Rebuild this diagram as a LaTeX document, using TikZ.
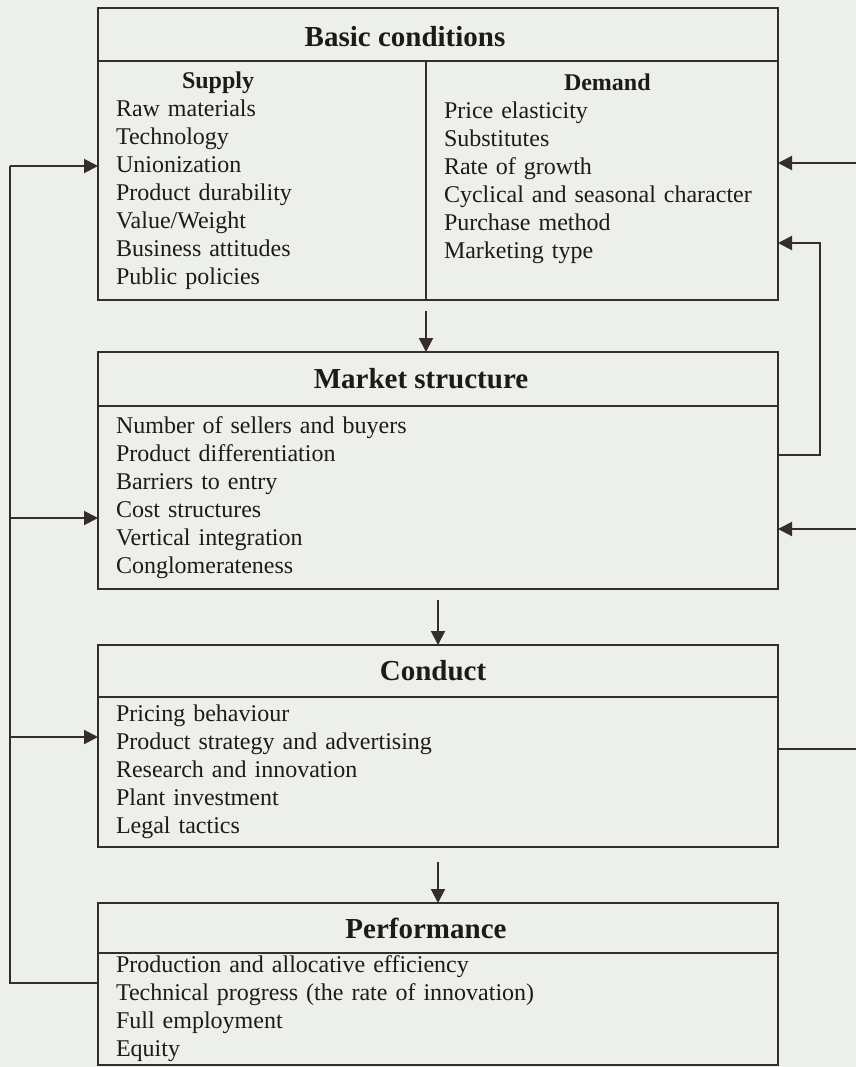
\documentclass[tikz,border=0pt]{standalone}
\usepackage{fontspec}
\setmainfont{Liberation Serif}
\usetikzlibrary{arrows.meta, positioning}

\definecolor{paper}{RGB}{236,239,234}
\definecolor{ink}{RGB}{52,45,42}
\definecolor{print}{RGB}{30,26,24}

\begin{document}
\begin{tikzpicture}[
  x=0.5pt, y=-0.5pt,
  head/.style={rectangle, draw=ink, line width=1pt, outer sep=0pt, minimum width=340pt},
  title/.style={text=print, inner sep=0pt, font=\fontsize{14.5pt}{17pt}\selectfont\bfseries},
  body/.style={rectangle, draw=ink, line width=1pt, outer sep=0pt, text=print, inner xsep=9pt, inner ysep=1pt, align=left, font=\fontsize{12pt}{14pt}\selectfont},
  arrow/.style={-{Triangle[length=7pt, width=7pt]}, draw=ink, line width=1pt},
  link/.style={draw=ink, line width=1pt}
]
\useasboundingbox (0,0) rectangle (856,1067);
\fill[paper] (0,0) rectangle (856,1067);

\node (basic) [head, anchor=north west, minimum height=26.5pt] at (98,8) {};
\node (basicT) [title] at ([xshift=-16.5pt, yshift=-1pt]basic.center) {Basic conditions};
\node (supply) [body, below=0pt of basic.south west, anchor=north west, minimum width=164pt, text width=146pt, minimum height=119.5pt]
  {\hspace*{33pt}\textbf{Supply}\\Raw materials\\Technology\\Unionization\\Product durability\\Value/Weight\\Business attitudes\\Public policies};
\node (demand) [body, right=0pt of supply, minimum width=176pt, text width=158pt, minimum height=119.5pt]
  {\hspace*{60pt}\textbf{Demand}\\Price elasticity\\Substitutes\\Rate of growth\\Cyclical and seasonal character\\Purchase method\\Marketing type\\\mbox{}};

\node (market) [head, below=26pt of supply.south west, anchor=north west, minimum height=27pt] {};
\node (marketT) [title] at ([xshift=-8.5pt]market.center) {Market structure};
\node (marketB) [body, below=0pt of market, minimum width=340pt, text width=322pt, minimum height=91.5pt]
  {Number of sellers and buyers\\Product differentiation\\Barriers to entry\\Cost structures\\Vertical integration\\Conglomerateness};

\node (conduct) [head, below=28pt of marketB, minimum height=26pt] {};
\node (conductT) [title] at ([xshift=-2.5pt]conduct.center) {Conduct};
\node (conductB) [body, below=0pt of conduct, minimum width=340pt, text width=322pt, minimum height=75pt]
  {Pricing behaviour\\Product strategy and advertising\\Research and innovation\\Plant investment\\Legal tactics};

\node (perf) [head, below=28pt of conductB, minimum height=25pt] {};
\node (perfT) [title] at ([xshift=-6pt]perf.center) {Performance};
\node (perfB) [body, below=0pt of perf, minimum width=340pt, text width=322pt, minimum height=56pt]
  {Production and allocative efficiency\\Technical progress (the rate of innovation)\\Full employment\\Equity};

% downward flow
\draw [arrow] ([yshift=-5.5pt]supply.south east) -- (supply.south east |- market.north);
\draw [arrow] ([yshift=-5.5pt]marketB.south) -- (conduct.north);
\draw [arrow] ([yshift=-7.5pt]conductB.south) -- (perf.north);

% feedback on the left
\coordinate (busTop) at (10,166);
\coordinate (busM) at (10,518);
\coordinate (busC) at (10,737);
\coordinate (busBot) at (10,983);
\draw [link] (perfB.west |- busBot) -- (busBot) -- (busTop);
\draw [arrow] (busTop) -- (supply.west |- busTop);
\draw [arrow] (busM) -- (marketB.west |- busM);
\draw [arrow] (busC) -- (conductB.west |- busC);

% feedback on the right
\coordinate (edgeB) at (856,163);
\coordinate (edgeM) at (856,529);
\coordinate (edgeC) at (856,749);
\coordinate (loopLo) at (820,455);
\coordinate (loopHi) at (820,243);
\draw [arrow] (edgeB) -- (demand.east |- edgeB);
\draw [arrow] (edgeM) -- (marketB.east |- edgeM);
\draw [link] (conductB.east |- edgeC) -- (edgeC);
\draw [arrow] (marketB.east |- loopLo) -- (loopLo) -- (loopHi) -- (demand.east |- loopHi);

\end{tikzpicture}
\end{document}
